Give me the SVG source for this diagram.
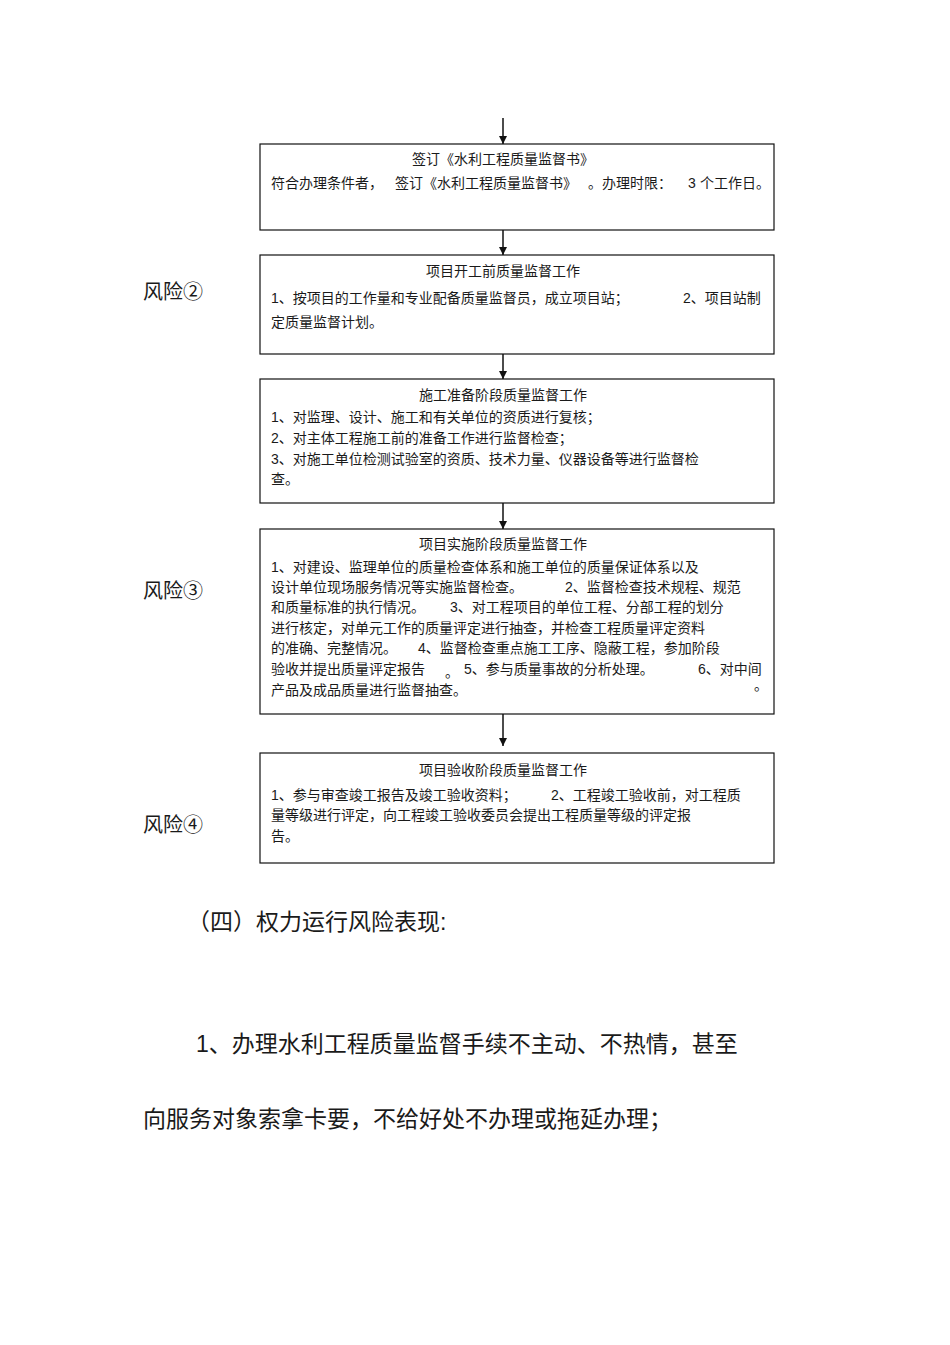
<svg xmlns="http://www.w3.org/2000/svg" width="950" height="1345" viewBox="0 0 950 1345">
<defs>
<marker id="ah" markerWidth="10" markerHeight="10" refX="9" refY="5" orient="auto" markerUnits="userSpaceOnUse">
<path d="M1,1 L9,5 L1,9 Z" fill="#111"/>
</marker>
<style>
.box{fill:#fff;stroke:#111;stroke-width:1.2}
.t{font-family:"Liberation Sans","Noto Sans CJK SC",sans-serif;font-size:14px;fill:#1a1a1a}
.c{text-anchor:middle}
.risk{font-family:"Liberation Serif","Noto Sans CJK SC",serif;font-size:20px;fill:#1a1a1a}
.h{font-family:"Liberation Sans","Noto Sans CJK SC",sans-serif;font-size:23px;fill:#1a1a1a}
.p{font-family:"Liberation Sans","Noto Sans CJK SC",sans-serif;font-size:23px;fill:#1a1a1a}
.conn{stroke:#111;stroke-width:1.5;fill:none}
</style>
</defs>
<rect width="950" height="1345" fill="#fff"/>
<g id="connectors">
<line class="conn" x1="503" y1="118" x2="503" y2="144" marker-end="url(#ah)"/>
<line class="conn" x1="503" y1="230" x2="503" y2="255" marker-end="url(#ah)"/>
<line class="conn" x1="503" y1="354" x2="503" y2="379" marker-end="url(#ah)"/>
<line class="conn" x1="503" y1="503" x2="503" y2="529" marker-end="url(#ah)"/>
<line class="conn" x1="503" y1="714" x2="503" y2="746" marker-end="url(#ah)"/>
</g>
<g id="node1">
<rect class="box" x="260" y="144" width="514" height="86"/>
<text class="t c" x="503" y="164">签订《水利工程质量监督书》</text>
<text class="t" x="271" y="188">符合办理条件者，</text>
<text class="t" x="395" y="188">签订《水利工程质量监督书》</text>
<text class="t" x="588" y="188">。办理时限：</text>
<text class="t" x="688" y="188">3</text>
<text class="t" x="700" y="188">个工作日。</text>
</g>
<g id="node2">
<rect class="box" x="260" y="255" width="514" height="99"/>
<text class="t c" x="503" y="276">项目开工前质量监督工作</text>
<text class="t" x="271" y="303">1、按项目的工作量和专业配备质量监督员，成立项目站；</text>
<text class="t" x="683" y="303">2、项目站制</text>
<text class="t" x="271" y="327">定质量监督计划。</text>
</g>
<g id="node3">
<rect class="box" x="260" y="379" width="514" height="124"/>
<text class="t c" x="503" y="400">施工准备阶段质量监督工作</text>
<text class="t" x="271" y="422">1、对监理、设计、施工和有关单位的资质进行复核；</text>
<text class="t" x="271" y="443">2、对主体工程施工前的准备工作进行监督检查；</text>
<text class="t" x="271" y="464">3、对施工单位检测试验室的资质、技术力量、仪器设备等进行监督检</text>
<text class="t" x="271" y="484">查。</text>
</g>
<g id="node4">
<rect class="box" x="260" y="529" width="514" height="185"/>
<text class="t c" x="503" y="549">项目实施阶段质量监督工作</text>
<text class="t" x="271" y="572">1、对建设、监理单位的质量检查体系和施工单位的质量保证体系以及</text>
<text class="t" x="271" y="592">设计单位现场服务情况等实施监督检查。</text>
<text class="t" x="565" y="592">2、监督检查技术规程、规范</text>
<text class="t" x="271" y="612">和质量标准的执行情况。</text>
<text class="t" x="450" y="612">3、对工程项目的单位工程、分部工程的划分</text>
<text class="t" x="271" y="633">进行核定，对单元工作的质量评定进行抽查，并检查工程质量评定资料</text>
<text class="t" x="271" y="653">的准确、完整情况。</text>
<text class="t" x="418" y="653">4、监督检查重点施工工序、隐蔽工程，参加阶段</text>
<text class="t" x="271" y="674">验收并提出质量评定报告</text>
<text class="t" x="445" y="677">。</text>
<text class="t" x="464" y="674">5、参与质量事故的分析处理。</text>
<text class="t" x="698" y="674">6、对中间</text>
<text class="t" x="754" y="690">。</text>
<text class="t" x="271" y="695">产品及成品质量进行监督抽查。</text>
</g>
<g id="node5">
<rect class="box" x="260" y="753" width="514" height="110"/>
<text class="t c" x="503" y="775">项目验收阶段质量监督工作</text>
<text class="t" x="271" y="800">1、参与审查竣工报告及竣工验收资料；</text>
<text class="t" x="551" y="800">2、工程竣工验收前，对工程质</text>
<text class="t" x="271" y="820">量等级进行评定，向工程竣工验收委员会提出工程质量等级的评定报</text>
<text class="t" x="271" y="841">告。</text>
</g>
<g id="risks">
<text class="risk" x="143" y="299">风险②</text>
<text class="risk" x="143" y="598">风险③</text>
<text class="risk" x="143" y="832">风险④</text>
</g>
<g id="body">
<text class="h" x="187" y="930">（四）权力运行风险表现:</text>
<text class="p" x="196" y="1052">1、办理水利工程质量监督手续不主动、不热情，甚至</text>
<text class="p" x="143" y="1127">向服务对象索拿卡要，不给好处不办理或拖延办理；</text>
</g>
</svg>
